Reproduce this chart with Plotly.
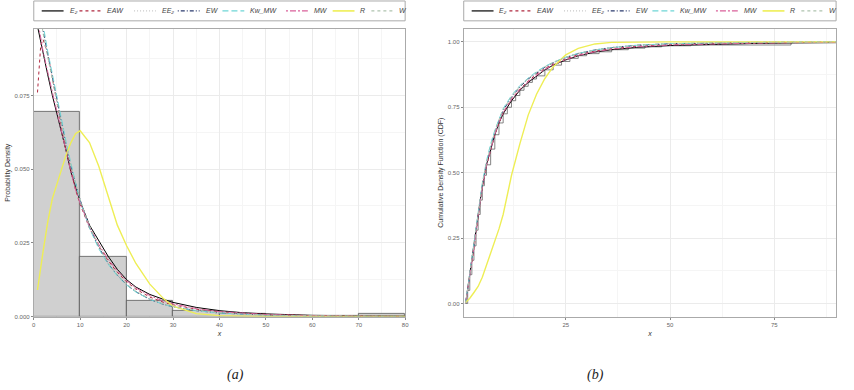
import plotly.graph_objects as go

# ---------------- data ----------------
series_names = ["E₂", "EAW", "EE₂", "EW", "Kw_MW", "MW", "R", "W"]

# histogram (density per bin of width 10)
hist_centers = [5, 15, 25, 35, 45, 55, 65, 75]
hist_density = [0.0695, 0.0202, 0.0053, 0.0019, 0.0011, 0.0004, 0.0002, 0.0008]

# fitted densities
pdf_x = [0.8, 1.5, 2, 3, 4, 5, 6, 7, 8, 9, 10, 12, 14, 16, 18, 20, 22, 25, 28, 30, 35, 40, 45, 50, 60, 70, 80]
pdf_E2 = [0.0985, 0.093, 0.089, 0.082, 0.075, 0.069, 0.062, 0.056, 0.049, 0.044, 0.0390, 0.0310, 0.0255, 0.0205, 0.0160, 0.0125, 0.0100, 0.0075, 0.0058, 0.0048, 0.0031, 0.0020, 0.0013, 0.0009, 0.0004, 0.0002, 0.0001]
pdf_EAW = [0.076, 0.092, 0.094, 0.089, 0.081, 0.072, 0.064, 0.056, 0.049, 0.043, 0.038, 0.030, 0.024, 0.019, 0.015, 0.0118, 0.0093, 0.0066, 0.0048, 0.0040, 0.0025, 0.0016, 0.0010, 0.0007, 0.0003, 0.0001, 0.00005]
pdf_EE2 = [0.115, 0.104, 0.098, 0.089, 0.081, 0.073, 0.065, 0.058, 0.051, 0.045, 0.039, 0.030, 0.0235, 0.018, 0.014, 0.011, 0.0085, 0.0060, 0.0043, 0.0035, 0.0021, 0.0013, 0.0008, 0.0005, 0.0002, 0.0001, 0.00004]
pdf_EW = [0.112, 0.102, 0.097, 0.089, 0.081, 0.073, 0.066, 0.058, 0.051, 0.045, 0.0395, 0.0305, 0.0235, 0.018, 0.014, 0.0108, 0.0084, 0.0058, 0.0041, 0.0033, 0.0020, 0.0012, 0.0008, 0.0005, 0.0002, 0.0001, 0.00003]
pdf_KwMW = [0.118, 0.106, 0.099, 0.090, 0.082, 0.0745, 0.067, 0.059, 0.052, 0.045, 0.039, 0.030, 0.023, 0.0178, 0.0138, 0.0107, 0.0083, 0.0058, 0.0041, 0.0033, 0.0020, 0.0012, 0.0008, 0.0005, 0.0002, 0.0001, 0.00003]
pdf_MW = [0.101, 0.094, 0.090, 0.083, 0.076, 0.069, 0.062, 0.055, 0.049, 0.043, 0.0385, 0.0305, 0.0245, 0.0195, 0.0155, 0.0122, 0.0097, 0.0071, 0.0052, 0.0043, 0.0027, 0.0017, 0.0011, 0.0007, 0.0003, 0.0001, 0.00005]
pdf_R = [0.009, 0.017, 0.022, 0.032, 0.040, 0.045, 0.050, 0.055, 0.059, 0.062, 0.063, 0.059, 0.051, 0.041, 0.031, 0.024, 0.018, 0.011, 0.006, 0.0035, 0.0010, 0.0003, 0.0001, 0.0, 0.0, 0.0, 0.0]
pdf_W = [0.110, 0.101, 0.096, 0.088, 0.080, 0.072, 0.065, 0.058, 0.051, 0.045, 0.0395, 0.0308, 0.0238, 0.0183, 0.0142, 0.011, 0.0086, 0.0060, 0.0043, 0.0035, 0.0021, 0.0013, 0.0008, 0.0005, 0.0002, 0.0001, 0.00004]

# fitted CDFs
cdf_x = [1, 2, 3, 4, 5, 6, 7, 8, 9, 10, 12, 14, 16, 18, 20, 22, 25, 28, 32, 36, 42, 50, 60, 70, 80, 90]
cdf_E2 = [0.0, 0.11, 0.22, 0.34, 0.45, 0.53, 0.59, 0.645, 0.69, 0.725, 0.775, 0.815, 0.845, 0.87, 0.893, 0.911, 0.931, 0.947, 0.961, 0.970, 0.979, 0.986, 0.991, 0.994, 0.996, 0.997]
cdf_EAW = [0.0, 0.10, 0.21, 0.33, 0.44, 0.525, 0.59, 0.645, 0.69, 0.728, 0.78, 0.82, 0.85, 0.876, 0.898, 0.915, 0.935, 0.951, 0.965, 0.974, 0.983, 0.990, 0.994, 0.996, 0.998, 0.999]
cdf_EE2 = [0.0, 0.12, 0.23, 0.35, 0.455, 0.54, 0.60, 0.655, 0.70, 0.74, 0.79, 0.83, 0.86, 0.884, 0.905, 0.922, 0.942, 0.957, 0.970, 0.979, 0.987, 0.993, 0.996, 0.998, 0.999, 1.0]
cdf_EW = [0.0, 0.115, 0.225, 0.345, 0.45, 0.535, 0.60, 0.655, 0.70, 0.738, 0.788, 0.828, 0.858, 0.882, 0.903, 0.920, 0.940, 0.955, 0.969, 0.978, 0.987, 0.993, 0.996, 0.998, 0.999, 1.0]
cdf_KwMW = [0.0, 0.12, 0.235, 0.355, 0.46, 0.545, 0.61, 0.662, 0.707, 0.745, 0.795, 0.833, 0.862, 0.886, 0.906, 0.922, 0.941, 0.956, 0.969, 0.978, 0.987, 0.993, 0.996, 0.998, 0.999, 1.0]
cdf_MW = [0.0, 0.105, 0.215, 0.335, 0.445, 0.528, 0.592, 0.647, 0.692, 0.73, 0.78, 0.818, 0.848, 0.873, 0.895, 0.912, 0.932, 0.948, 0.962, 0.972, 0.981, 0.988, 0.992, 0.995, 0.997, 0.998]
cdf_R = [0.004, 0.02, 0.042, 0.065, 0.10, 0.145, 0.19, 0.235, 0.285, 0.34, 0.49, 0.61, 0.72, 0.80, 0.86, 0.905, 0.95, 0.975, 0.992, 0.998, 1.0, 1.0, 1.0, 1.0, 1.0, 1.0]
cdf_W = [0.0, 0.118, 0.23, 0.35, 0.455, 0.54, 0.605, 0.658, 0.703, 0.741, 0.791, 0.83, 0.86, 0.884, 0.905, 0.921, 0.941, 0.956, 0.969, 0.978, 0.987, 0.993, 0.996, 0.998, 0.999, 1.0]

# empirical CDF
ecdf_x = [1, 1.5, 2, 2.5, 3, 3.5, 4, 4.5, 5, 5.5, 6, 7, 8, 9, 10, 11, 12, 13, 14, 15, 16, 17, 18, 20, 22, 24, 26, 28, 30, 33, 36, 40, 44, 48, 55, 79]
ecdf_y = [0.0, 0.05, 0.11, 0.165, 0.22, 0.28, 0.34, 0.395, 0.45, 0.49, 0.53, 0.59, 0.645, 0.69, 0.725, 0.75, 0.775, 0.795, 0.815, 0.83, 0.845, 0.858, 0.87, 0.893, 0.911, 0.925, 0.937, 0.947, 0.955, 0.962, 0.97, 0.976, 0.981, 0.985, 0.988, 1.0]

pdf_ticks = [0, 10, 20, 30, 40, 50, 60, 70, 80]
pdf_yticks = [0.0, 0.025, 0.05, 0.075]
pdf_ytick_labels = ["0.000", "0.025", "0.050", "0.075"]
cdf_ticks = [25, 50, 75]
cdf_yticks = [0.0, 0.25, 0.5, 0.75, 1.0]
cdf_ytick_labels = ["0.00", "0.25", "0.50", "0.75", "1.00"]

# ---------------- styles ----------------
colors = ["#000000", "#B0283F", "#C8C8C8", "#2A3A6E", "#6FD6D6", "#D9609A", "#EEEE55", "#AFC3AF"]
dashes = ["solid", "3px,3px", "1px,2px", "1px,2px,4px,2px", "6px,3px", "2px,2px,6px,2px", "solid", "3px,3px"]
widths = [1.0, 1.0, 1.0, 1.0, 1.0, 1.0, 1.4, 1.0]

pdf_series = [pdf_E2, pdf_EAW, pdf_EE2, pdf_EW, pdf_KwMW, pdf_MW, pdf_R, pdf_W]
cdf_series = [cdf_E2, cdf_EAW, cdf_EE2, cdf_EW, cdf_KwMW, cdf_MW, cdf_R, cdf_W]

W, H = 854, 390
L_X0, L_X1 = 32, 406
R_X0, R_X1 = 465, 840
P_TOP, P_BOT = 29, 319

fig = go.Figure()

fig.add_trace(go.Bar(x=hist_centers, y=hist_density, width=10,
                     marker=dict(color="#D0D0D0", line=dict(color="#555555", width=0.8)),
                     showlegend=False, xaxis="x", yaxis="y"))

for i, ys in enumerate(pdf_series):
    fig.add_trace(go.Scatter(x=pdf_x, y=ys, mode="lines", showlegend=False,
                             line=dict(color=colors[i], dash=dashes[i], width=widths[i]),
                             xaxis="x", yaxis="y"))

fig.add_trace(go.Scatter(x=ecdf_x, y=ecdf_y, mode="lines", line_shape="hv", showlegend=False,
                         line=dict(color="#666666", width=0.8), xaxis="x2", yaxis="y2"))
for i, ys in enumerate(cdf_series):
    fig.add_trace(go.Scatter(x=cdf_x, y=ys, mode="lines", showlegend=False,
                             line=dict(color=colors[i], dash=dashes[i], width=widths[i]),
                             xaxis="x2", yaxis="y2"))

tickfont = dict(family="Liberation Sans", size=6, color="#666666")
titlefont = dict(family="Liberation Sans", size=7, color="#333333")
xtitlefont = dict(family="Liberation Sans", size=7, color="#333333", style="italic")
grid_major = "#EBEBEB"
grid_minor = "#F5F5F5"

def axis_common():
    return dict(showline=True, mirror=True, linecolor="#AAAAAA", linewidth=1,
                ticks="outside", ticklen=2, tickcolor="#888888", tickfont=tickfont,
                showgrid=True, gridcolor=grid_major, gridwidth=0.8, zeroline=False)

ydom = [(H - P_BOT) / H, (H - P_TOP) / H]

fig.update_layout(
    width=W, height=H, margin=dict(l=0, r=0, t=0, b=0),
    paper_bgcolor="white", plot_bgcolor="white", bargap=0,
    xaxis=dict(domain=[L_X0 / W, L_X1 / W], range=[0, 80], tickvals=pdf_ticks,
               minor=dict(showgrid=True, gridcolor=grid_minor, dtick=5, tick0=0),
               title=dict(text="x", font=xtitlefont, standoff=4), anchor="y", **axis_common()),
    yaxis=dict(domain=ydom, range=[0, 0.0976], tickvals=pdf_yticks, ticktext=pdf_ytick_labels,
               minor=dict(showgrid=True, gridcolor=grid_minor, dtick=0.0125, tick0=0),
               title=dict(text="Probability Density", font=titlefont, standoff=3), anchor="x", **axis_common()),
    xaxis2=dict(domain=[R_X0 / W, R_X1 / W], range=[0.55, 89.8], tickvals=cdf_ticks,
                minor=dict(showgrid=True, gridcolor=grid_minor, dtick=12.5, tick0=0),
                title=dict(text="x", font=xtitlefont, standoff=4), anchor="y2", **axis_common()),
    yaxis2=dict(domain=ydom, range=[-0.05, 1.05], tickvals=cdf_yticks, ticktext=cdf_ytick_labels,
                minor=dict(showgrid=True, gridcolor=grid_minor, dtick=0.125, tick0=0),
                title=dict(text="Cumulative Density Function (CDF)", font=titlefont, standoff=3),
                anchor="x2", **axis_common()),
)

# ---------------- legends (one box per panel) ----------------
item_offsets = [8, 46, 101, 145, 190, 254, 301, 340]
seg_len = 22
leg_top, leg_bot, leg_mid = 1, 21, 11
shapes = []
annotations = []
for bx0, bx1 in [(L_X0, L_X1), (R_X0, R_X1)]:
    shapes.append(dict(type="rect", xref="paper", yref="paper",
                       x0=bx0 / W, x1=bx1 / W, y0=1 - leg_bot / H, y1=1 - leg_top / H,
                       line=dict(color="#AAAAAA", width=1), fillcolor="white", layer="above"))
    for i, name in enumerate(series_names):
        sx = bx0 + item_offsets[i]
        shapes.append(dict(type="line", xref="paper", yref="paper",
                           x0=sx / W, x1=(sx + seg_len) / W, y0=1 - leg_mid / H, y1=1 - leg_mid / H,
                           line=dict(color=colors[i], dash=dashes[i], width=widths[i] + 0.2), layer="above"))
        annotations.append(dict(xref="paper", yref="paper", x=(sx + seg_len + 4) / W, y=1 - leg_mid / H,
                                text=name, showarrow=False, xanchor="left", yanchor="middle",
                                font=dict(family="Liberation Sans", size=7, color="#444444", style="italic")))

# panel captions
for cx, lab in [(235, "(a)"), (598, "(b)")]:
    annotations.append(dict(xref="paper", yref="paper", x=cx / W, y=1 - 378 / H,
                            text=lab, showarrow=False, xanchor="center", yanchor="middle",
                            font=dict(family="Liberation Serif", size=14, color="#222222", style="italic")))

fig.update_layout(shapes=shapes, annotations=annotations)
fig.write_html("out.html")
